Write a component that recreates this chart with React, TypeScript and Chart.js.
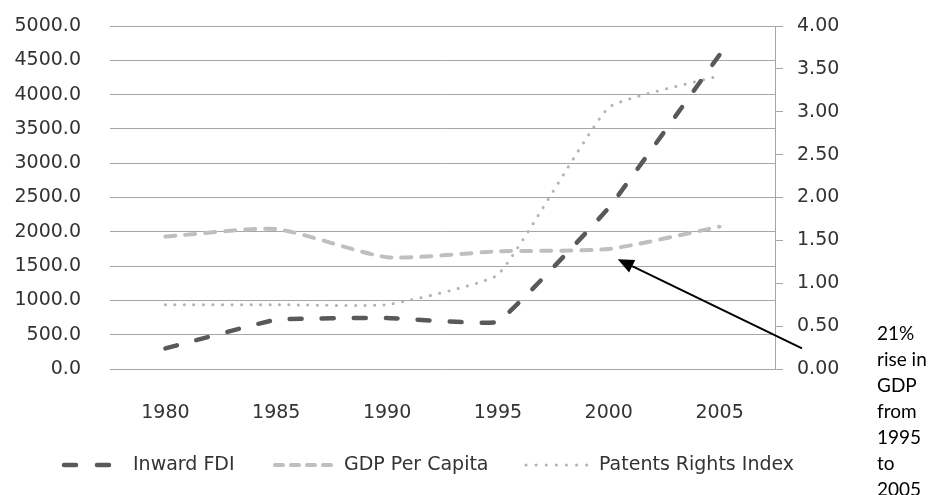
import React, { useEffect, useRef } from "react";
import { Chart, registerables } from "chart.js";

Chart.register(...registerables);

const years = ["1980", "1985", "1990", "1995", "2000", "2005"];
const inwardFDI = [300, 720, 745, 690, 2350, 4580];
const gdpPerCapita = [1930, 2040, 1630, 1715, 1750, 2075];
const patentsIndex = [0.75, 0.75, 0.75, 1.1, 3.05, 3.42];
const seriesNames = ["Inward FDI", "GDP Per Capita", "Patents Rights Index"];
const noteLines = ["21%", "rise in", "GDP", "from", "1995", "to", "2005"];

const FONT = "'DejaVu Sans', sans-serif";
const TEXT = "#333333";
const GRID = "#a6a6a6";
const DARK = "#595959";
const LIGHT = "#bfbfbf";
const DOT = "#b3b3b3";

const extrasPlugin = {
  id: "extras",
  afterDraw(chart: any) {
    const ctx = chart.ctx;
    const area = chart.chartArea;
    const xs = chart.scales.x;
    const yl = chart.scales.y;
    ctx.save();
    // arrow
    const tx = xs.getPixelForValue(4) + 9;
    const ty = yl.getPixelForValue(1600);
    const sx = area.right + 27;
    const sy = yl.getPixelForValue(300);
    const ang = Math.atan2(ty - sy, tx - sx);
    const headLen = 16;
    const headW = 7;
    const bx = tx - headLen * Math.cos(ang);
    const by = ty - headLen * Math.sin(ang);
    ctx.strokeStyle = "#000";
    ctx.fillStyle = "#000";
    ctx.lineWidth = 2;
    ctx.beginPath();
    ctx.moveTo(sx, sy);
    ctx.lineTo(bx, by);
    ctx.stroke();
    ctx.beginPath();
    ctx.moveTo(tx, ty);
    ctx.lineTo(bx + headW * Math.sin(ang), by - headW * Math.cos(ang));
    ctx.lineTo(bx - headW * Math.sin(ang), by + headW * Math.cos(ang));
    ctx.closePath();
    ctx.fill();
    // note text
    ctx.font = "19px Lato, 'Liberation Sans', sans-serif";
    ctx.textAlign = "left";
    ctx.textBaseline = "middle";
    noteLines.forEach((t, i) => {
      ctx.fillText(t, area.right + 102, 334 + i * 26);
    });
    // legend
    const ly = 465;
    const items = [
      { x0: 64, x1: 111, color: DARK, w: 4.5, dash: [12, 21], tx: 133 },
      { x0: 275, x1: 331, color: LIGHT, w: 4, dash: [8, 8], tx: 344 },
      { x0: 526, x1: 588, color: DOT, w: 3, dash: [0.1, 10], tx: 599 },
    ];
    items.forEach((it, i) => {
      ctx.strokeStyle = it.color;
      ctx.lineWidth = it.w;
      ctx.lineCap = "round";
      ctx.setLineDash(it.dash);
      ctx.beginPath();
      ctx.moveTo(it.x0, ly);
      ctx.lineTo(it.x1, ly);
      ctx.stroke();
      ctx.setLineDash([]);
      ctx.fillStyle = TEXT;
      ctx.font = "19px " + FONT;
      ctx.textAlign = "left";
      ctx.textBaseline = "middle";
      ctx.fillText(seriesNames[i], it.tx, ly);
    });
    ctx.restore();
  },
};

export default function App() {
  const ref = useRef<HTMLCanvasElement>(null);
  useEffect(() => {
    if (!ref.current) return;
    const chart = new Chart(ref.current, {
      type: "line",
      data: {
        labels: years,
        datasets: [
          {
            label: seriesNames[0],
            data: inwardFDI,
            yAxisID: "y",
            borderColor: DARK,
            borderWidth: 4.5,
            borderDash: [12, 20],
            borderCapStyle: "round",
            pointRadius: 0,
            tension: 0.08,
            fill: false,
          },
          {
            label: seriesNames[1],
            data: gdpPerCapita,
            yAxisID: "y",
            borderColor: LIGHT,
            borderWidth: 4,
            borderDash: [10, 10],
            borderCapStyle: "round",
            pointRadius: 0,
            tension: 0.2,
            fill: false,
          },
          {
            label: seriesNames[2],
            data: patentsIndex,
            yAxisID: "y1",
            borderColor: DOT,
            borderWidth: 3,
            borderDash: [0.1, 9.4],
            borderCapStyle: "round",
            pointRadius: 0,
            tension: 0.12,
            fill: false,
          },
        ],
      },
      options: {
        responsive: false,
        animation: false,
        devicePixelRatio: 1,
        layout: { padding: { top: 26, bottom: 0, left: 0, right: 0 } },
        plugins: { legend: { display: false }, tooltip: { enabled: false } },
        scales: {
          x: {
            offset: true,
            grid: { display: false },
            border: { display: false },
            ticks: { font: { family: FONT, size: 19 }, color: TEXT, padding: 25, maxRotation: 0 },
            afterFit: (s: any) => {
              s.height = 126;
            },
          },
          y: {
            position: "left",
            min: 0,
            max: 5000,
            ticks: {
              stepSize: 500,
              font: { family: FONT, size: 19 },
              color: TEXT,
              padding: 3,
              callback: (v: any) => Number(v).toFixed(1),
            },
            grid: { color: GRID, drawTicks: true, tickLength: 26, tickColor: "rgba(0,0,0,0)", lineWidth: 1 },
            border: { display: false },
            afterFit: (s: any) => {
              s.width = 110;
            },
          },
          y1: {
            position: "right",
            min: 0,
            max: 4,
            ticks: {
              stepSize: 0.5,
              font: { family: FONT, size: 19 },
              color: TEXT,
              padding: 14,
              callback: (v: any) => Number(v).toFixed(2),
            },
            grid: { drawOnChartArea: false, drawTicks: true, tickLength: 8, color: GRID },
            border: { display: true, color: GRID },
            afterFit: (s: any) => {
              s.width = 155;
            },
          },
        },
      },
      plugins: [extrasPlugin],
    });
    return () => chart.destroy();
  }, []);
  return (
    <div style={{ position: "fixed", left: 0, top: 0, width: 930, height: 495, background: "#fff" }}>
      <canvas ref={ref} width={930} height={495} style={{ display: "block" }} />
    </div>
  );
}
